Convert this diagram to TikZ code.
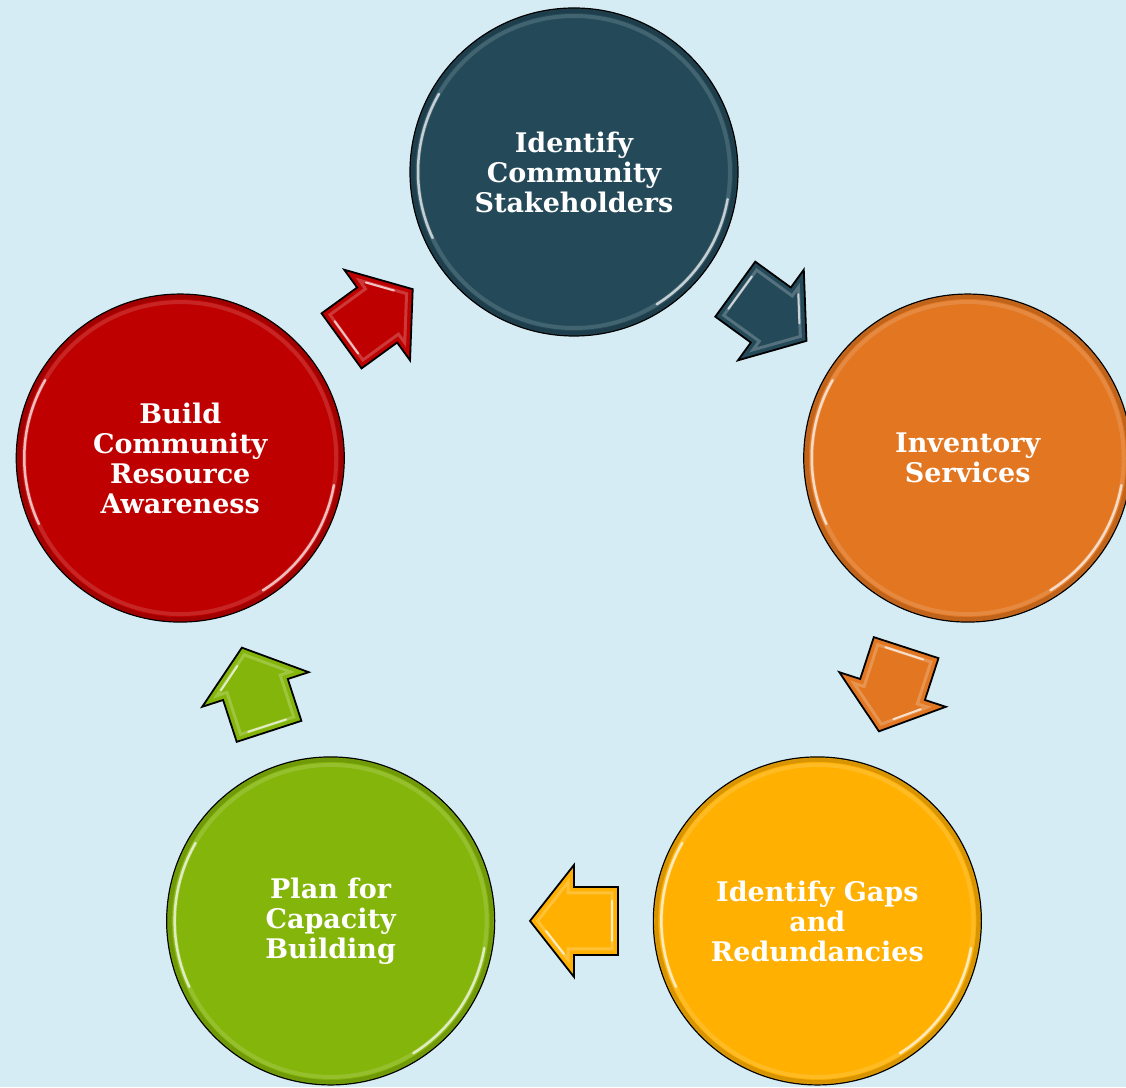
\documentclass[tikz,border=0pt]{standalone}
\usepackage{fontspec}
\setmainfont{DejaVu Serif}
\usetikzlibrary{calc}
\definecolor{bg}{RGB}{213,236,244}
\definecolor{cTeal}{RGB}{36,74,89}
\definecolor{cOrange}{RGB}{226,118,33}
\definecolor{cYellow}{RGB}{255,176,0}
\definecolor{cGreen}{RGB}{132,181,10}
\definecolor{cRed}{RGB}{190,0,0}
\newcommand\stagerim[1]{%
  \draw[black, line width=4pt, opacity=.15] (#1.center) circle (161);
  \draw[white, line width=4pt, opacity=.14] (#1.center) circle (156);
  \draw[white, line width=2.5pt, opacity=.7, line cap=round] ($(#1.center)+(150:156)$) arc[start angle=150, end angle=205, radius=156];
  \draw[white, line width=2.5pt, opacity=.7, line cap=round] ($(#1.center)+(-10:156)$) arc[start angle=-10, end angle=-58, radius=156];
}
\tikzset{
  stage/.style={circle, minimum size=328pt, inner sep=0pt, draw=black, line width=1.2pt,
    text=white, font=\bfseries\fontsize{27}{30}\selectfont, align=center},
  blockarrow/.pic={
    \path[pic actions, draw=black, line width=1.8pt, line join=miter]
      (-44,-34) -- (0,-34) -- (0,-56) -- (44,0) -- (0,56) -- (0,34) -- (-44,34) -- cycle;
    \draw[white, opacity=.22, line width=3pt]
      (-38,-28) -- (6,-28) -- (6,-38.7) -- (36.4,0) -- (6,38.7) -- (6,28) -- (-38,28) -- cycle;
    \draw[white, opacity=.7, line width=2pt, line cap=round] (-38,-20) -- (-38,20);
    \draw[white, opacity=.7, line width=2pt, line cap=round] (10,33) -- (28,10);
  }
}
\begin{document}
\begin{tikzpicture}[x=1pt,y=1pt]
\fill[bg] (0,0) rectangle (1126,1087);
\useasboundingbox (0,0) rectangle (1126,1087);
\clip (0,0) rectangle (1126,1087);
\coordinate (o) at (574,501);
\node[stage, fill=cTeal]   (s1) at ($(o)+(90:414)$)   {Identify\\Community\\Stakeholders};
\node[stage, fill=cOrange] (s2) at ($(o)+(18:414)$)   {Inventory\\Services};
\node[stage, fill=cYellow] (s3) at ($(o)+(-54:414)$)  {Identify Gaps\\and\\Redundancies};
\node[stage, fill=cGreen]  (s4) at ($(o)+(-126:414)$) {Plan for\\Capacity\\Building};
\node[stage, fill=cRed]    (s5) at ($(o)+(162:414)$)  {Build\\Community\\Resource\\Awareness};
\foreach \s in {s1,s2,s3,s4,s5}{\stagerim{\s}}
\path let \p1=($(s2)-(s1)$), \n1={atan2(\y1,\x1)} in ($(s1)!.5!(s2)$) pic[rotate=\n1, fill=cTeal] {blockarrow};
\path let \p1=($(s3)-(s2)$), \n1={atan2(\y1,\x1)} in ($(s2)!.5!(s3)$) pic[rotate=\n1, fill=cOrange] {blockarrow};
\path let \p1=($(s4)-(s3)$), \n1={atan2(\y1,\x1)} in ($(s3)!.5!(s4)$) pic[rotate=\n1, fill=cYellow] {blockarrow};
\path let \p1=($(s5)-(s4)$), \n1={atan2(\y1,\x1)} in ($(s4)!.5!(s5)$) pic[rotate=\n1, fill=cGreen] {blockarrow};
\path let \p1=($(s1)-(s5)$), \n1={atan2(\y1,\x1)} in ($(s5)!.5!(s1)$) pic[rotate=\n1, fill=cRed] {blockarrow};
\end{tikzpicture}
\end{document}
